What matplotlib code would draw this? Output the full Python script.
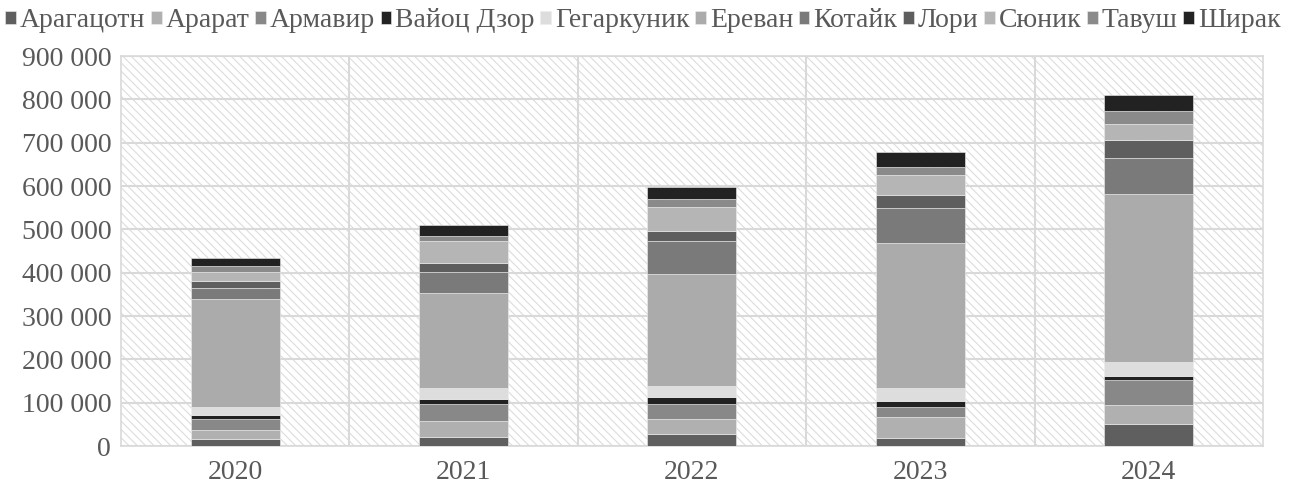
import matplotlib.pyplot as plt
import matplotlib.ticker as mticker
from matplotlib.patches import Rectangle
import numpy as np

plt.rcParams['font.family'] = ['Liberation Serif', 'DejaVu Serif']
plt.rcParams['hatch.linewidth'] = 0.8
plt.rcParams['hatch.color'] = '#dcdcdc'

years = ['2020', '2021', '2022', '2023', '2024']
regions = ['Арагацотн', 'Арарат', 'Армавир', 'Вайоц Дзор', 'Гегаркуник', 'Ереван',
           'Котайк', 'Лори', 'Сюник', 'Тавуш', 'Ширак']
colors = ['#5f5f5f', '#b0b0b0', '#888888', '#222222', '#dddddd', '#ababab',
          '#7a7a7a', '#5e5e5e', '#b5b5b5', '#8a8a8a', '#222222']

# values per region, one per year
aragatsotn = [15500, 20000, 27000, 19200, 50100]
ararat = [21500, 38300, 36000, 47100, 44500]
armavir = [24700, 37800, 34600, 23800, 57700]
vayots_dzor = [10000, 11500, 14800, 13200, 9900]
gegharkunik = [19200, 25400, 26100, 31400, 30900]
yerevan = [247800, 219200, 259200, 333200, 388400]
kotayk = [25400, 49200, 75500, 82200, 83800]
lori = [17500, 21500, 23800, 28600, 40800]
syunik = [20800, 50800, 54000, 46200, 36900]
tavush = [13800, 10800, 18500, 19800, 30700]
shirak = [17000, 25400, 27700, 33900, 36200]

series = [aragatsotn, ararat, armavir, vayots_dzor, gegharkunik, yerevan,
          kotayk, lori, syunik, tavush, shirak]

fig = plt.figure(figsize=(13, 4.88), dpi=100)
ax = fig.add_axes([0.093, 0.086, 0.8785, 0.799])

# hatched background
ax.add_patch(Rectangle((0, 0), 1, 1, transform=ax.transAxes, facecolor='white',
                       edgecolor='#dcdcdc', hatch='\\\\\\\\', linewidth=0, zorder=0))

x = np.arange(len(years))
bottom = np.zeros(len(years))
for name, vals, c in zip(regions, series, colors):
    ax.bar(x, vals, width=0.39, bottom=bottom, color=c, label=name,
           edgecolor='#eeeeee', linewidth=0.4, zorder=3)
    bottom += np.array(vals)

ax.set_xlim(-0.5, len(years) - 0.5)
ax.set_ylim(0, 900000)
ax.set_yticks(np.arange(0, 900001, 100000))
ax.yaxis.set_major_formatter(mticker.FuncFormatter(lambda v, p: f'{int(v):,}'.replace(',', ' ')))
ax.set_xticks(x)
ax.set_xticklabels(years)
ax.set_xticks(np.arange(0.5, len(years) - 0.5, 1), minor=True)
ax.grid(axis='y', which='major', color='#d9d9d9', linewidth=1.5, zorder=1)
ax.grid(axis='x', which='minor', color='#d9d9d9', linewidth=1.5, zorder=1)
ax.set_axisbelow(True)
ax.tick_params(axis='y', which='both', length=0, labelsize=20, colors='#595959', pad=7)
ax.tick_params(axis='x', which='both', length=0, labelsize=20, colors='#595959', pad=10)
for s in ax.spines.values():
    s.set_color('#d9d9d9')
    s.set_linewidth(1.2)

fig.legend(loc='upper left', bbox_to_anchor=(0.004, 0.983), ncol=11, frameon=False,
           fontsize=20, handlelength=0.38, handleheight=0.38, handletextpad=0.15,
           columnspacing=0.2, labelcolor='#595959', borderaxespad=0, borderpad=0)

fig.savefig('out.png', dpi=100)
